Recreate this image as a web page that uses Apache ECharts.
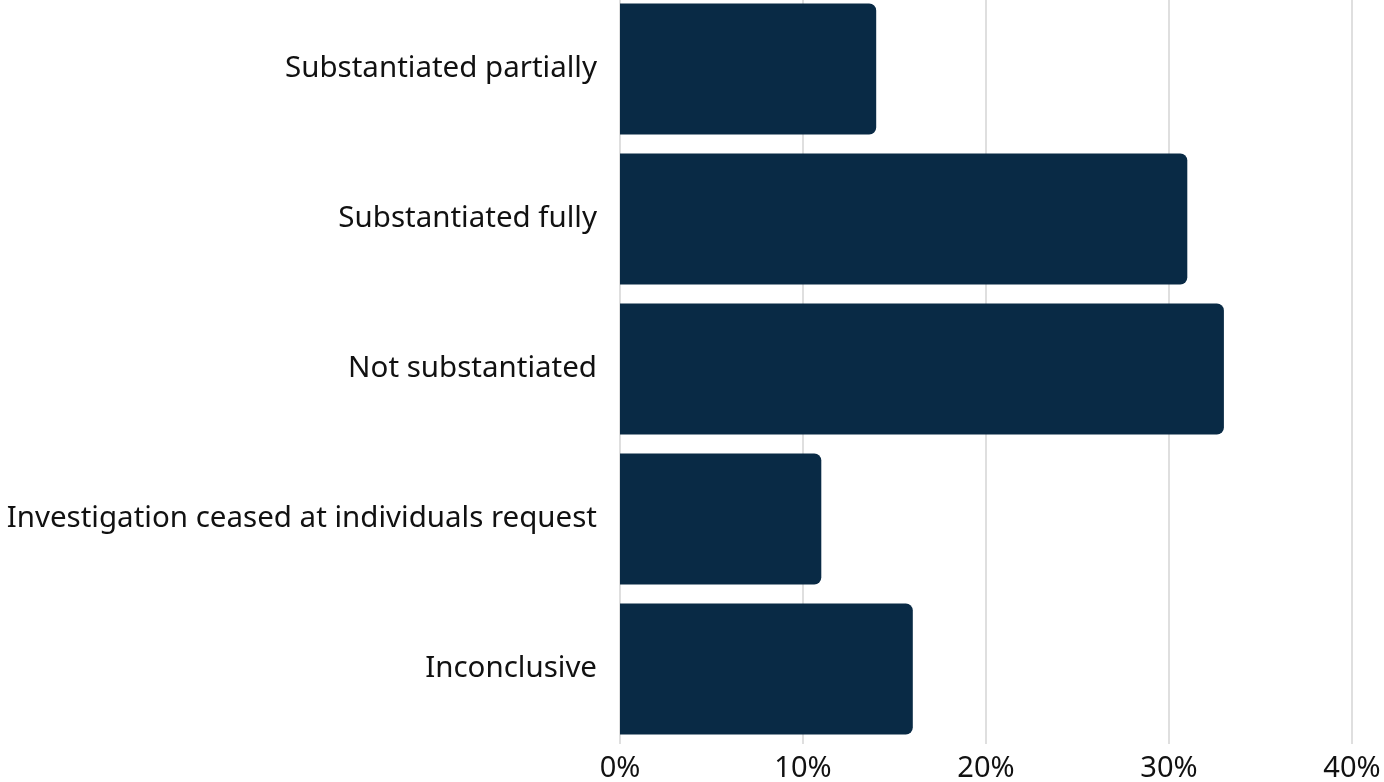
<!DOCTYPE html>
<html>
<head>
<meta charset="utf-8">
<style>
  html, body { margin: 0; padding: 0; background: #ffffff; }
  #chart { width: 1384px; height: 782px; }
</style>
<script src="https://cdn.jsdelivr.net/npm/echarts@6/dist/echarts.min.js"></script>
</head>
<body>
<div id="chart"></div>
<script>
// Outcome categories, top to bottom
const categories = [
  'Substantiated partially',
  'Substantiated fully',
  'Not substantiated',
  'Investigation ceased at individuals request',
  'Inconclusive'
];
// Share of cases per outcome (%)
const shares = [14, 31, 33, 11, 16];
// Value axis range (%)
const axisMin = 0;
const axisMax = 40;
const axisStep = 10;

const chart = echarts.init(document.getElementById('chart'), null, { renderer: 'canvas' });
const font = '"Noto Sans", "Open Sans", sans-serif';

chart.setOption({
  animation: false,
  grid: { left: 620, right: 32, top: -6, bottom: 38, containLabel: false, outerBoundsMode: 'none' },
  xAxis: {
    type: 'value',
    min: axisMin,
    max: axisMax,
    interval: axisStep,
    axisLine: { show: false },
    axisTick: { show: false },
    splitLine: { show: true, lineStyle: { color: '#d4d4d4', width: 1.5 } },
    axisLabel: {
      formatter: '{value}%',
      color: '#111111',
      fontFamily: font,
      fontSize: 29,
      margin: 10
    }
  },
  yAxis: {
    type: 'category',
    data: categories,
    inverse: true,
    axisLine: { show: false },
    axisTick: { show: false },
    splitLine: { show: false },
    axisLabel: {
      color: '#111111',
      fontFamily: font,
      fontSize: 29.5,
      margin: 23,
      padding: [5, 0, 0, 0]
    }
  },
  series: [{
    type: 'bar',
    data: shares,
    barCategoryGap: '12.7%',
    itemStyle: { color: '#092a45', borderRadius: [0, 7, 7, 0] }
  }]
});
</script>
</body>
</html>
